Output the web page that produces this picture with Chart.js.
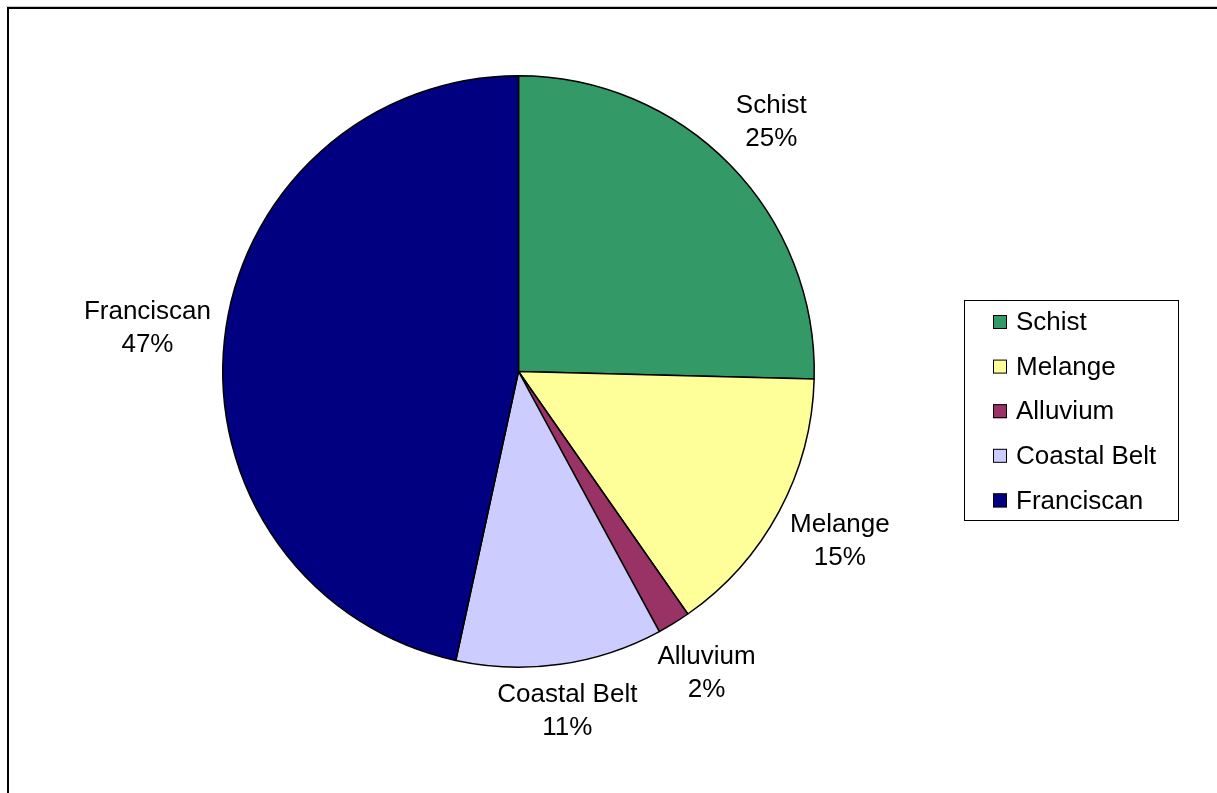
<!DOCTYPE html>
<html>
<head>
<meta charset="utf-8">
<script src="https://cdn.jsdelivr.net/npm/chart.js@4/dist/chart.umd.min.js"></script>
<style>
html,body{margin:0;padding:0;background:#fff;}
#wrap{position:relative;width:1217px;height:793px;}
</style>
</head>
<body>
<div id="wrap"><canvas id="c"></canvas></div>
<script>
const categories = ["Schist", "Melange", "Alluvium", "Coastal Belt", "Franciscan"];
const values = [25.4, 14.9, 1.8, 11.3, 46.6];
const colors = ["#339966", "#FFFF99", "#993366", "#CCCCFF", "#000080"];

const FONT = '26px "Liberation Sans", Arial, sans-serif';
const LINE_H = 33;

const framePlugin = {
  id: 'frame',
  beforeDraw(chart) {
    const ctx = chart.ctx;
    ctx.save();
    ctx.fillStyle = '#fff';
    ctx.fillRect(0, 0, chart.width, chart.height);
    ctx.fillStyle = '#c8c8c8';
    ctx.fillRect(6, 6, chart.width - 6, 1);
    ctx.fillStyle = '#000';
    ctx.fillRect(7, 7, chart.width - 7, 2);
    ctx.fillRect(7, 7, 2, chart.height - 7);
    ctx.restore();
  }
};

const labelPlugin = {
  id: 'sliceLabels',
  afterDatasetsDraw(chart) {
    const ctx = chart.ctx;
    const meta = chart.getDatasetMeta(0);
    const data = chart.data.datasets[0].data;
    const total = data.reduce((a, b) => a + b, 0);
    ctx.save();
    ctx.font = FONT;
    ctx.fillStyle = '#000';
    ctx.textAlign = 'center';
    ctx.textBaseline = 'middle';
    meta.data.forEach((arc, i) => {
      const p = arc.getProps(['x', 'y', 'startAngle', 'endAngle', 'outerRadius'], true);
      const mid = (p.startAngle + p.endAngle) / 2;
      const dx = Math.cos(mid), dy = Math.sin(mid);
      const l1 = chart.data.labels[i];
      const l2 = Math.round(data[i] / total * 100) + '%';
      const hw = Math.max(ctx.measureText(l1).width, ctx.measureText(l2).width) / 2;
      const hh = 30;
      const d = p.outerRadius + 11 + hw * Math.abs(dx) + hh * Math.abs(dy);
      const cx = p.x + dx * d, cy = p.y + dy * d - 3;
      ctx.fillText(l1, cx, cy - LINE_H / 2);
      ctx.fillText(l2, cx, cy + LINE_H / 2);
    });
    ctx.restore();
  }
};

const legendPlugin = {
  id: 'boxLegend',
  afterDraw(chart) {
    const ctx = chart.ctx;
    ctx.save();
    const bx = 964.5, by = 300.5, bw = 214, bh = 220;
    ctx.strokeStyle = '#000';
    ctx.lineWidth = 1;
    ctx.strokeRect(bx, by, bw, bh);
    ctx.font = FONT;
    ctx.textAlign = 'left';
    ctx.textBaseline = 'middle';
    chart.data.labels.forEach((lab, i) => {
      const cy = 322 + i * 44.6;
      ctx.fillStyle = chart.data.datasets[0].backgroundColor[i];
      ctx.fillRect(993, cy - 7, 14, 14);
      ctx.strokeStyle = '#000';
      ctx.strokeRect(993.5, cy - 6.5, 13, 13);
      ctx.fillStyle = '#000';
      ctx.fillText(lab, 1016, cy + 1);
    });
    ctx.restore();
  }
};

new Chart(document.getElementById('c'), {
  type: 'pie',
  data: {
    labels: categories,
    datasets: [{
      data: values,
      backgroundColor: colors,
      borderColor: '#000',
      borderWidth: 1.5
    }]
  },
  options: {
    responsive: true,
    maintainAspectRatio: false,
    animation: false,
    layout: { padding: { left: 222, top: 75, right: 402, bottom: 125 } },
    plugins: {
      legend: { display: false },
      tooltip: { enabled: false }
    }
  },
  plugins: [framePlugin, labelPlugin, legendPlugin]
});
</script>
</body>
</html>
